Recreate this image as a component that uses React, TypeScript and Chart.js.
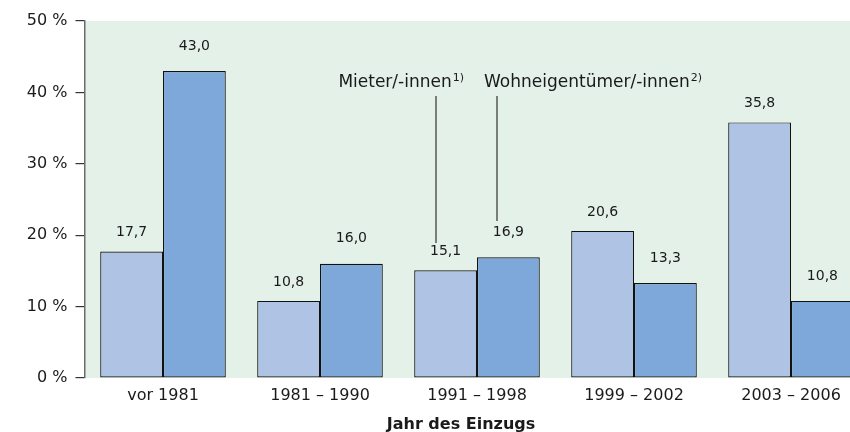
import React, { useEffect, useRef } from "react";
import { Chart, registerables } from "chart.js";

Chart.register(...registerables);

const categories = ["vor 1981", "1981 – 1990", "1991 – 1998", "1999 – 2002", "2003 – 2006"];
const mieter = [17.7, 10.8, 15.1, 20.6, 35.8];
const eigentuemer = [43.0, 16.0, 16.9, 13.3, 10.8];
const yTickValues = [0, 10, 20, 30, 40, 50];
const seriesNames = ["Mieter/-innen", "Wohneigentümer/-innen"];
const seriesNotes = ["1)", "2)"];
const axisTitle = "Jahr des Einzugs";

const FONT = "'DejaVu Sans', sans-serif";
const TEXT = "#1a1a1a";

const fmt = (v: number) => v.toFixed(1).replace(".", ",");

const bgPlugin = {
  id: "bgPlugin",
  beforeDraw(chart: any) {
    const { ctx, chartArea } = chart;
    ctx.save();
    ctx.fillStyle = "#e4f1e9";
    ctx.fillRect(chartArea.left, chartArea.top, chartArea.right - chartArea.left, chartArea.bottom - chartArea.top);
    ctx.restore();
  },
};

const labelPlugin = {
  id: "labelPlugin",
  afterDatasetsDraw(chart: any) {
    const { ctx } = chart;
    ctx.save();
    ctx.font = `14px ${FONT}`;
    ctx.fillStyle = TEXT;
    ctx.textAlign = "center";
    ctx.textBaseline = "middle";
    chart.data.datasets.forEach((ds: any, di: number) => {
      const meta = chart.getDatasetMeta(di);
      const off = di === 0 ? 19 : 25;
      meta.data.forEach((bar: any, i: number) => {
        ctx.fillText(fmt(ds.data[i]), bar.x, bar.y - off);
      });
    });

    // annotation labels
    const xs = chart.scales.x;
    const ys = chart.scales.y;
    const cx = xs.getPixelForValue(2);
    const baseY = ys.getPixelForValue(40.7);
    ctx.textBaseline = "alphabetic";
    ctx.textAlign = "left";
    ctx.font = `11px ${FONT}`;
    const sup1W = ctx.measureText(seriesNotes[0]).width;
    ctx.font = `17px ${FONT}`;
    const t1W = ctx.measureText(seriesNames[0]).width;
    const endX = cx - 13;
    ctx.fillText(seriesNames[0], endX - sup1W - 1 - t1W, baseY);
    ctx.font = `11px ${FONT}`;
    ctx.fillText(seriesNotes[0], endX - sup1W, baseY - 6);
    ctx.font = `17px ${FONT}`;
    const startX = cx + 7;
    const t2W = ctx.measureText(seriesNames[1]).width;
    ctx.fillText(seriesNames[1], startX, baseY);
    ctx.font = `11px ${FONT}`;
    ctx.fillText(seriesNotes[1], startX + t2W + 1, baseY - 6);

    // leader lines
    ctx.strokeStyle = "#333";
    ctx.lineWidth = 1.2;
    const top = ys.getPixelForValue(39.5);
    ctx.beginPath();
    ctx.moveTo(cx - 41, top);
    ctx.lineTo(cx - 41, ys.getPixelForValue(18.9));
    ctx.moveTo(cx + 20, top);
    ctx.lineTo(cx + 20, ys.getPixelForValue(22.0));
    ctx.stroke();

    // axis title
    ctx.font = `bold 16px ${FONT}`;
    ctx.textAlign = "center";
    ctx.fillStyle = TEXT;
    ctx.fillText(axisTitle, (chart.chartArea.left + chart.chartArea.right) / 2 - 16, chart.chartArea.bottom + 51);
    ctx.restore();
  },
};

export default function App() {
  const ref = useRef<HTMLCanvasElement | null>(null);
  useEffect(() => {
    if (!ref.current) return;
    const chart = new Chart(ref.current, {
      type: "bar",
      data: {
        labels: categories,
        datasets: [
          {
            label: seriesNames[0],
            data: mieter,
            backgroundColor: "#afc4e4",
            borderColor: "#111",
            borderWidth: 1.2,
            borderSkipped: false,
          },
          {
            label: seriesNames[1],
            data: eigentuemer,
            backgroundColor: "#7da8d9",
            borderColor: "#111",
            borderWidth: 1.2,
            borderSkipped: false,
          },
        ],
      },
      options: {
        responsive: false,
        animation: false,
        layout: { padding: { top: 21, right: 10.5, bottom: 0, left: 0 } },
        plugins: {
          legend: { display: false },
          tooltip: { enabled: false },
          title: { display: false },
        },
        datasets: { bar: { barPercentage: 1, categoryPercentage: 0.8 } },
        scales: {
          x: {
            grid: { display: false, drawTicks: false },
            border: { display: false },
            ticks: { font: { family: FONT, size: 16 }, color: TEXT, padding: 8, maxRotation: 0 },
            afterFit: (s: any) => {
              s.height = 54;
            },
          },
          y: {
            min: 0,
            max: 50,
            afterBuildTicks: (s: any) => {
              s.ticks = yTickValues.map((v) => ({ value: v }));
            },
            grid: { drawOnChartArea: false, drawTicks: true, tickLength: 9, color: "#333", lineWidth: 1.2 },
            border: { display: true, color: "#6b6b6b", width: 1.5 },
            ticks: {
              font: { family: FONT, size: 16 },
              color: TEXT,
              padding: 8,
              callback: (v: any) => `${v} %`,
            },
            afterFit: (s: any) => {
              s.width = 84.5;
            },
          },
        },
      },
      plugins: [bgPlugin, labelPlugin],
    });
    return () => chart.destroy();
  }, []);
  return (
    <div style={{ position: "fixed", left: 0, top: 0, width: 850, height: 432, overflow: "hidden", background: "#fff" }}>
      <canvas ref={ref} width={880} height={432} style={{ width: 880, height: 432, display: "block" }} />
    </div>
  );
}
